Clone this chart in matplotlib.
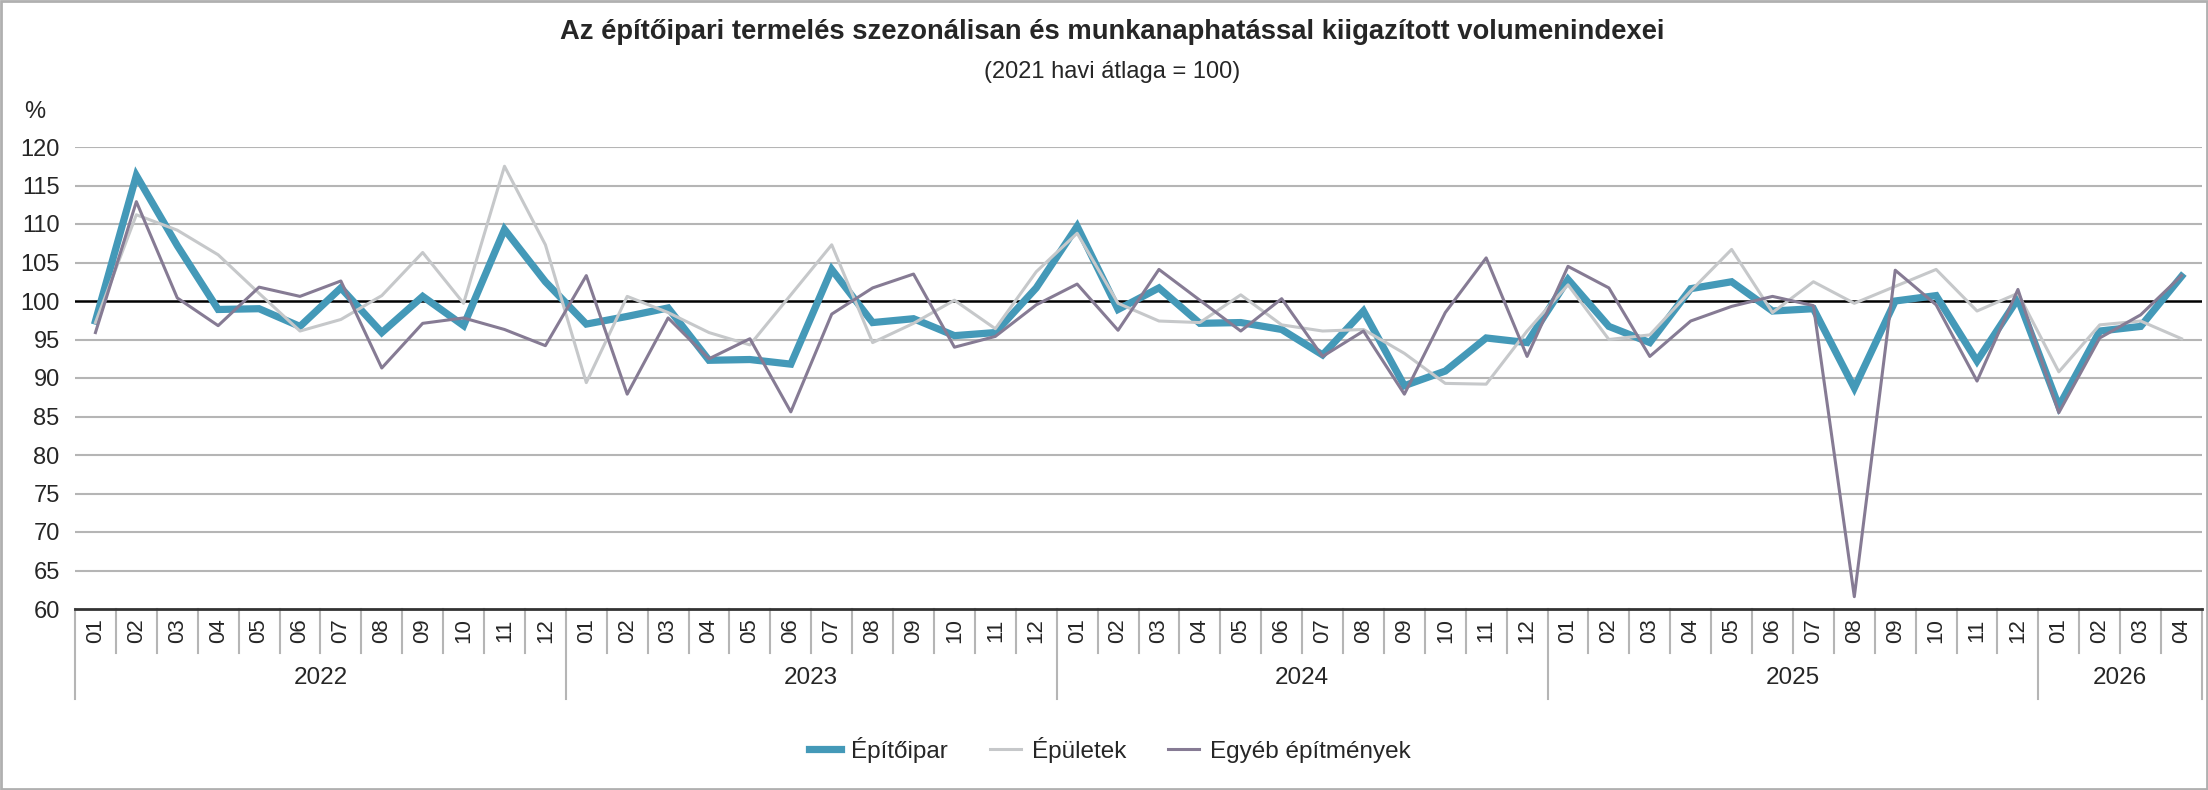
import matplotlib
matplotlib.use('Agg')
import matplotlib.pyplot as plt
import matplotlib.transforms as mtrans
from matplotlib.patches import Rectangle
import numpy as np

plt.rcParams['font.family'] = ['Liberation Sans', 'DejaVu Sans']

years = ['2022', '2023', '2024', '2025', '2026']
months_per_year = [12, 12, 12, 12, 4]
month_labels = ['%02d' % (m + 1) for n in months_per_year for m in range(n)]

epitoipar = [97.4, 116.3, 107.2, 98.9, 99.0, 96.7, 101.7, 95.9, 100.6, 96.8, 109.3, 102.5,
             97.0, 98.0, 99.1, 92.3, 92.4, 91.8, 104.1, 97.2, 97.7, 95.5, 95.9, 101.7,
             109.7, 98.9, 101.7, 97.1, 97.2, 96.3, 93.0, 98.7, 89.0, 90.9, 95.2, 94.6,
             102.8, 96.7, 94.6, 101.6, 102.5, 98.7, 99.0, 88.7, 100.0, 100.7, 92.2, 100.3,
             86.3, 96.1, 96.7, 103.2]
epuletek = [97.2, 111.2, 109.2, 106.0, 101.0, 96.1, 97.6, 100.7, 106.3, 99.7, 117.5, 107.3,
            89.4, 100.6, 98.5, 95.9, 94.3, 100.8, 107.3, 94.6, 97.1, 100.1, 96.4, 103.8,
            108.8, 99.7, 97.4, 97.2, 100.8, 96.9, 96.1, 96.3, 93.2, 89.3, 89.2, 96.1,
            102.1, 95.0, 95.6, 101.3, 106.7, 98.5, 102.5, 99.7, 101.9, 104.1, 98.7, 101.0,
            90.8, 96.9, 97.4, 95.1]
egyeb = [95.9, 112.9, 100.4, 96.8, 101.8, 100.6, 102.6, 91.3, 97.1, 97.8, 96.3, 94.2,
         103.3, 87.9, 97.8, 92.5, 95.1, 85.6, 98.3, 101.7, 103.5, 94.0, 95.4, 99.5,
         102.2, 96.2, 104.1, 100.1, 96.1, 100.3, 92.8, 96.1, 87.9, 98.5, 105.6, 92.8,
         104.5, 101.7, 92.8, 97.4, 99.3, 100.6, 99.4, 61.6, 104.0, 99.5, 89.6, 101.5,
         85.5, 95.2, 98.2, 103.3]

yticks = list(range(60, 121, 5))

blue = '#4499b8'
grey = '#c6c8ca'
purple = '#867b94'
txt = '#262626'

fig = plt.figure(figsize=(22.08, 7.9), dpi=100)
ax = fig.add_axes([75/2208, 1-609/790, (2202-75)/2208, (609-147)/790])

n = len(month_labels)
x = np.arange(n) + 0.5

for v in yticks[1:]:
    if v == 100:
        continue
    ax.axhline(v, color='#b5b5b5', lw=1.5, zorder=1)
ax.axhline(100, color='black', lw=1.8, zorder=2)

ax.plot(x, epitoipar, color=blue, lw=5.2, solid_joinstyle='miter', zorder=3, label='Építőipar')
ax.plot(x, epuletek, color=grey, lw=2.2, zorder=4, label='Épületek')
ax.plot(x, egyeb, color=purple, lw=2.2, zorder=5, label='Egyéb építmények')

ax.set_xlim(0, n)
ax.set_ylim(60, 120)
ax.set_yticks(yticks)
ax.set_yticklabels([str(v) for v in yticks])
ax.tick_params(axis='y', length=0, pad=11, labelsize=17, labelcolor=txt)
ax.set_xticks([])
for s in ['top', 'right', 'left']:
    ax.spines[s].set_visible(False)
ax.spines['bottom'].set_color('#333333')
ax.spines['bottom'].set_linewidth(2)

trans = mtrans.blended_transform_factory(ax.transData, ax.transAxes)
tick_len = 44/462
year_len = 90/462
for i, lab in enumerate(month_labels):
    ax.text(x[i], -0.047, lab, transform=trans, rotation=90, ha='center', va='center',
            fontsize=16, color=txt)
# separators between months, longer ones between years
bounds = np.cumsum([0] + months_per_year)
for b in range(n + 1):
    length = year_len if b in bounds else tick_len
    ax.plot([b, b], [0, -length], transform=trans, color='#b5b5b5', lw=1.5, clip_on=False)
for k, yr in enumerate(years):
    ax.text((bounds[k] + bounds[k+1]) / 2, -0.149, yr, transform=trans, ha='center',
            va='center', fontsize=17.5, color=txt)

ax.text(-0.019, 1.075, '%', transform=ax.transAxes, ha='center', va='center', fontsize=17, color=txt)

fig.text(1112/2208, 1-32/790, 'Az építőipari termelés szezonálisan és munkanaphatással kiigazított volumenindexei',
         ha='center', va='center', fontsize=19.7, fontweight='bold', color=txt)
fig.text(1112/2208, 1-72/790, '(2021 havi átlaga = 100)', ha='center', va='center', fontsize=17, color=txt)

fig.legend(loc='center', bbox_to_anchor=(1110/2208, 1-750/790), ncol=3, frameon=False,
           fontsize=17.5, handlelength=1.3, handletextpad=0.45, columnspacing=1.7,
           labelcolor=txt)

fig.patches.append(Rectangle((0.0005, 0.001), 0.999, 0.998, transform=fig.transFigure,
                             fill=False, edgecolor='#b0b0b0', lw=2))

fig.savefig('out.png', dpi=100)
